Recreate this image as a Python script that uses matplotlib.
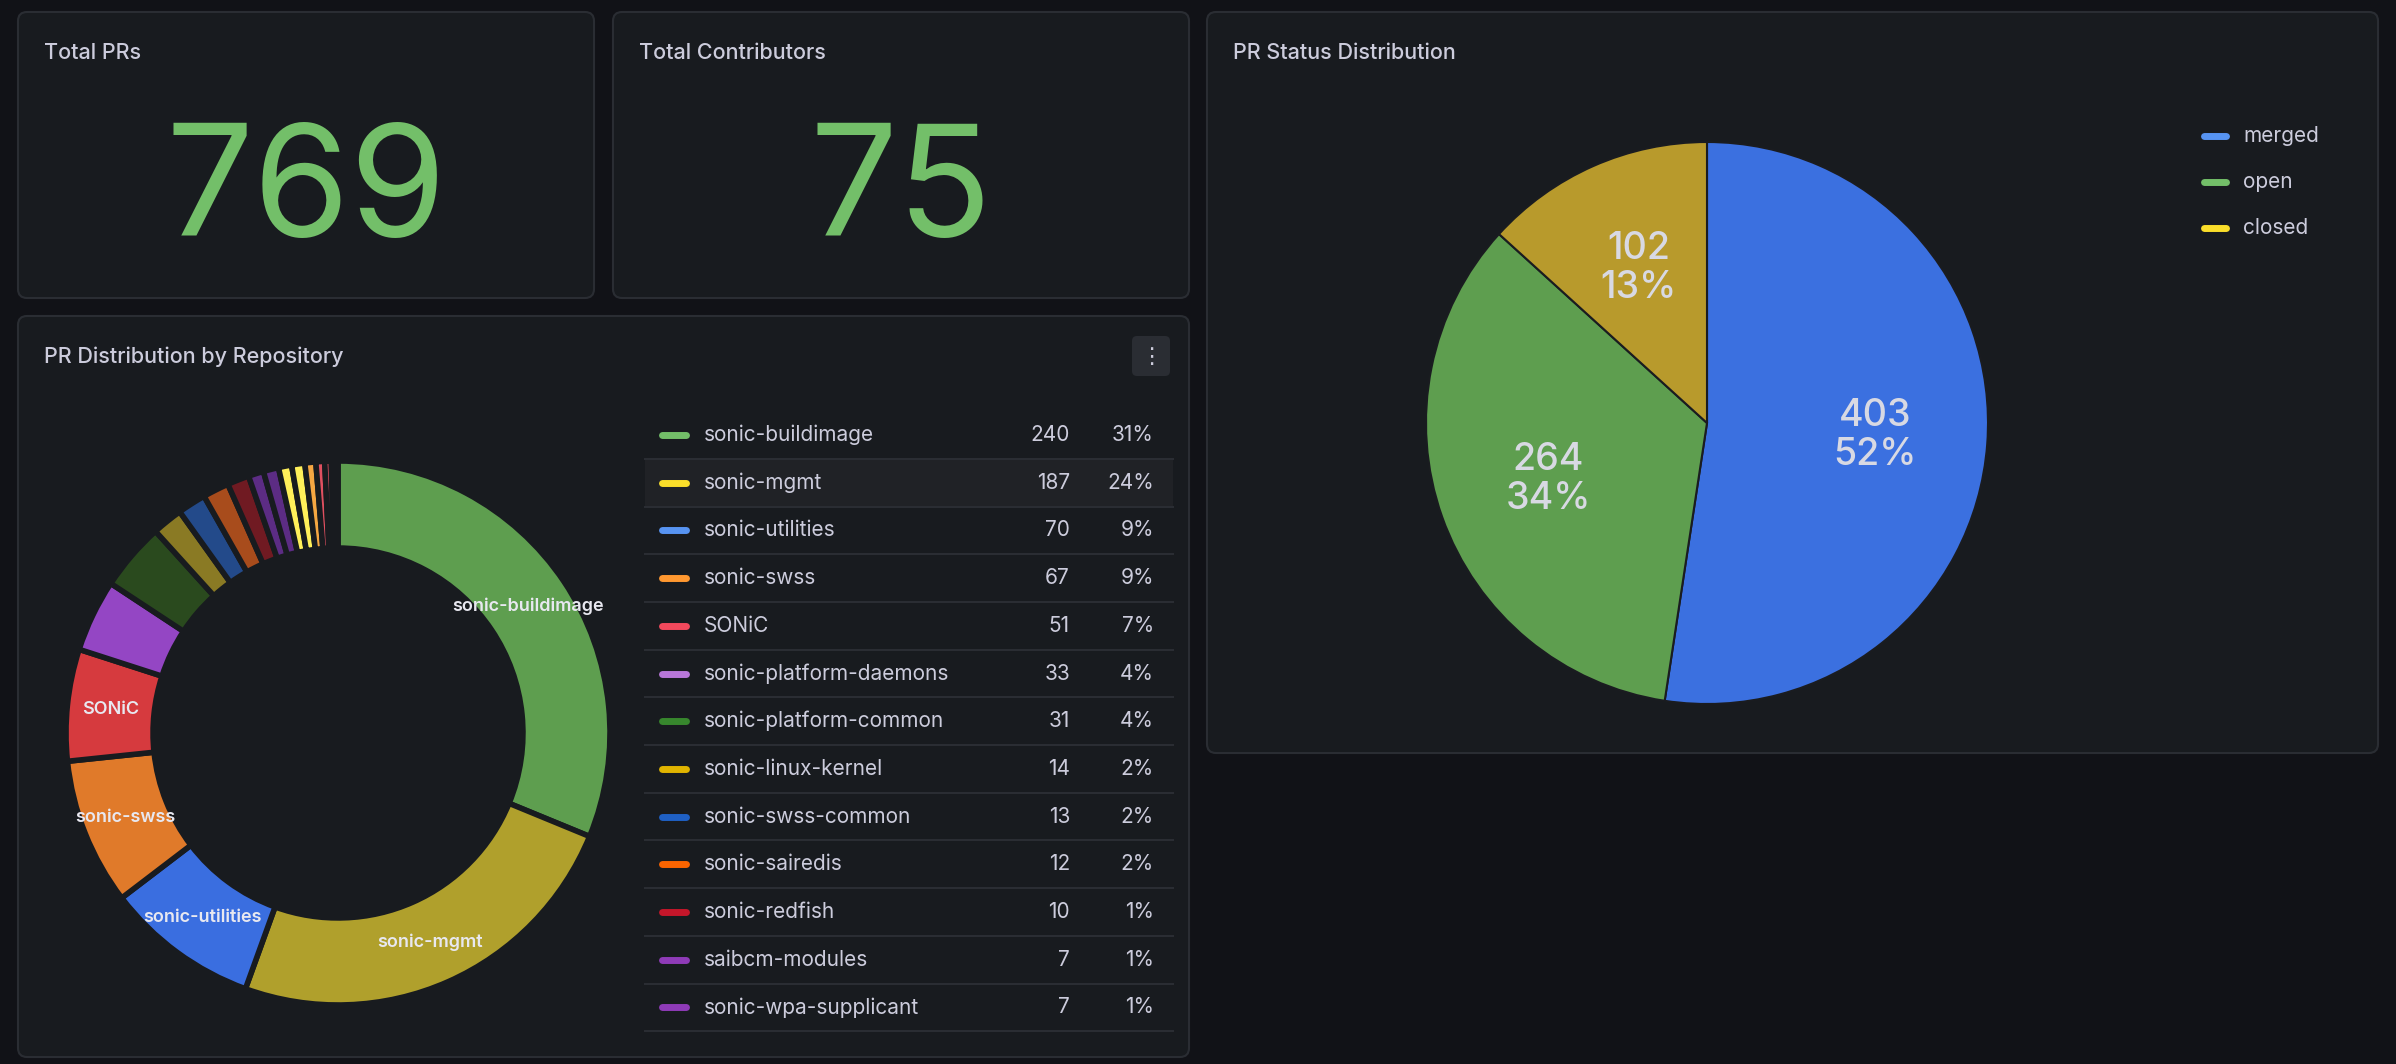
import numpy as np
import matplotlib
matplotlib.use("Agg")
import matplotlib.pyplot as plt
from matplotlib.patches import FancyBboxPatch

plt.rcParams['font.family'] = ['Inter', 'DejaVu Sans']

W, H = 2396, 1064

# data
total_prs = 769
total_contributors = 75

repos = ["sonic-buildimage", "sonic-mgmt", "sonic-utilities", "sonic-swss", "SONiC",
         "sonic-platform-daemons", "sonic-platform-common", "sonic-linux-kernel",
         "sonic-swss-common", "sonic-sairedis", "sonic-redfish", "saibcm-modules",
         "sonic-wpa-supplicant"]
repo_counts = [240, 187, 70, 67, 51, 33, 31, 14, 13, 12, 10, 7, 7]
# small repos not shown in the table (slivers at the end of the donut)
other_counts = [6, 6, 5, 4, 3, 2, 1]

status_names = ["merged", "open", "closed"]
status_counts = [403, 264, 102]

# colours
BG = "#111217"
PANEL = "#181b1f"
BORDER = "#2a2d33"
TEXT = "#ccccdc"
legend_colors = ["#73bf69", "#fade2a", "#5794f2", "#ff9830", "#f2495c", "#b877d9",
                 "#37872d", "#e0b400", "#1f60c4", "#fa6400", "#c4162a", "#8f3bb8", "#8f3bb8"]
ring_colors = ["#5e9e4f", "#b0a02c", "#3a6ee0", "#e07a2a", "#d63a3e", "#9446c4",
               "#2a4a1e", "#8a7a24", "#234a8a", "#a84c1c", "#701a22", "#5c2c84", "#5c2c84"]
other_colors = ["#fff05a", "#fff05a", "#f5a742", "#e05060", "#e05060", "#e05060", "#e05060"]
status_colors = ["#3b70e0", "#5e9e4f", "#b89a2c"]
status_legend_colors = ["#5794f2", "#73bf69", "#fade2a"]

fig = plt.figure(figsize=(W / 100, H / 100), dpi=100, facecolor=BG)
bg = fig.add_axes([0, 0, 1, 1])
bg.set_xlim(0, W)
bg.set_ylim(H, 0)
bg.axis("off")


def panel(x0, y0, x1, y1, title):
    bg.add_patch(FancyBboxPatch((x0, y0), x1 - x0, y1 - y0,
                                boxstyle="round,pad=0,rounding_size=9",
                                fc=PANEL, ec=BORDER, lw=1.5))
    bg.text(x0 + 26, y0 + 41, title, color=TEXT, fontsize=15.5,
            fontweight="medium", va="center", ha="left")


panel(18, 12, 594, 298, "Total PRs")
panel(613, 12, 1189, 298, "Total Contributors")
panel(1207, 12, 2378, 753, "PR Status Distribution")
panel(18, 316, 1189, 1057, "PR Distribution by Repository")

bg.text(306, 196, str(total_prs), color="#73bf69", fontsize=112, ha="center", va="center")
bg.text(901, 196, str(total_contributors), color="#73bf69", fontsize=112, ha="center", va="center")

# menu button
bg.add_patch(FancyBboxPatch((1132, 336), 38, 40, boxstyle="round,pad=0,rounding_size=5",
                            fc="#2a2d33", ec="none"))
bg.text(1151, 357, "\u22ee", color=TEXT, fontsize=16, ha="center", va="center")


def pie_axes(cx, cy, r):
    return fig.add_axes([(cx - r) / W, 1 - (cy + r) / H, 2 * r / W, 2 * r / H])


# donut
ax = pie_axes(338, 733, 272)
vals = repo_counts + other_counts
cols = ring_colors + other_colors
wedges, _ = ax.pie(vals, colors=cols, startangle=90, counterclock=False,
                   wedgeprops=dict(width=0.32, edgecolor=PANEL, linewidth=4))
total = sum(vals)
for w, name, v in zip(wedges, repos, repo_counts):
    if v / total < 0.06:
        continue
    th = np.deg2rad((w.theta1 + w.theta2) / 2)
    ax.text(0.84 * np.cos(th), 0.84 * np.sin(th), name, color="#e8e8f0",
            fontsize=13, fontweight="semibold", ha="center", va="center")
ax.set_xlim(-1, 1)
ax.set_ylim(-1, 1)
ax.axis("off")

# repo table
row0, step = 435, 47.7
for i, (name, v, c) in enumerate(zip(repos, repo_counts, legend_colors)):
    y = row0 + i * step
    if i == 1:
        bg.add_patch(plt.Rectangle((645, y - step / 2), 528, step, fc="#202226", ec="none"))
    bg.plot([662, 686], [y, y], color=c, lw=5, solid_capstyle="round")
    bg.text(704, y, name, color=TEXT, fontsize=15, ha="left", va="center")
    bg.text(1070, y, str(v), color=TEXT, fontsize=15, ha="right", va="center")
    bg.text(1154, y, f"{round(v / total_prs * 100)}%", color=TEXT, fontsize=15,
            ha="right", va="center")
    bg.plot([645, 1173], [y + step / 2, y + step / 2], color=BORDER, lw=1.5)

# status pie
ax2 = pie_axes(1707, 423, 281)
wedges2, _ = ax2.pie(status_counts, colors=status_colors, startangle=90, counterclock=False,
                     wedgeprops=dict(edgecolor="#1a1c20", linewidth=1.5))
stot = sum(status_counts)
for w, v in zip(wedges2, status_counts):
    th = np.deg2rad((w.theta1 + w.theta2) / 2)
    ax2.text(0.6 * np.cos(th), 0.6 * np.sin(th), f"{v}\n{round(v / stot * 100)}%",
             color="#d8d9e3", fontsize=27, fontweight="medium", ha="center", va="center",
             linespacing=1.1)
ax2.set_xlim(-1, 1)
ax2.set_ylim(-1, 1)
ax2.axis("off")

for i, (name, c) in enumerate(zip(status_names, status_legend_colors)):
    y = 136 + i * 46
    bg.plot([2204, 2226], [y, y], color=c, lw=5, solid_capstyle="round")
    bg.text(2243, y, name, color=TEXT, fontsize=15, ha="left", va="center")

fig.savefig("out.png", dpi=100, facecolor=BG)
